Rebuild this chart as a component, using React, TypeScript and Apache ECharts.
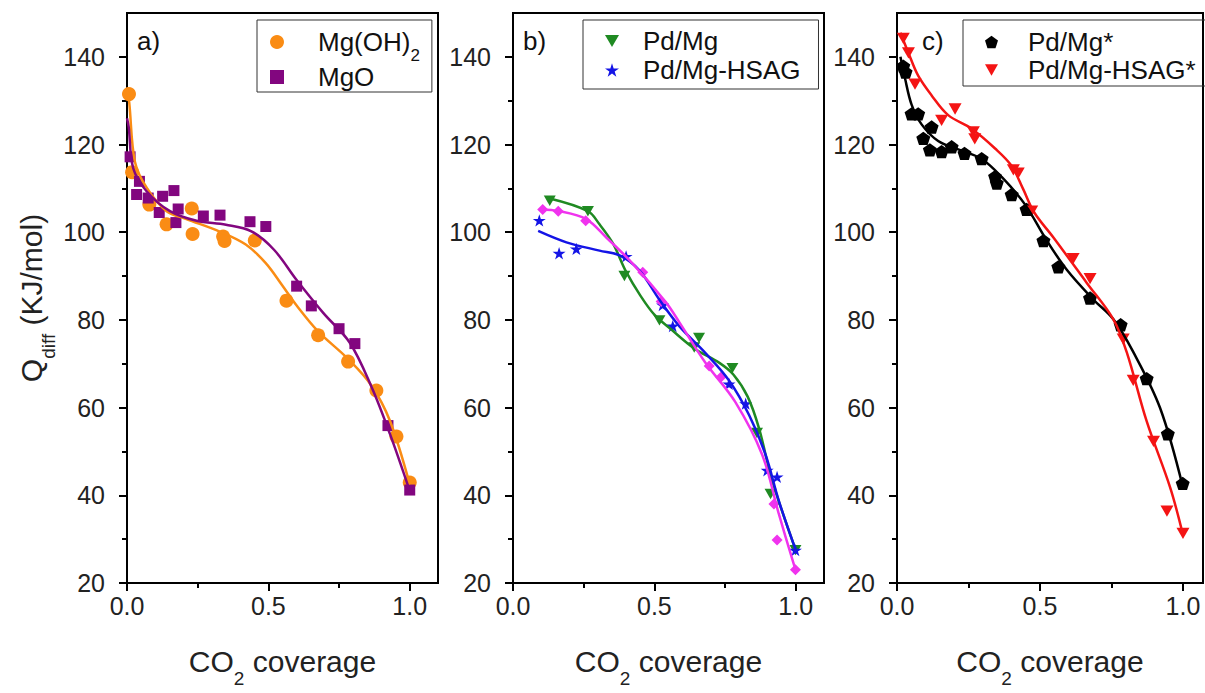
import { useEffect, useRef } from 'react';
import * as echarts from 'echarts';

const FONT = '"Liberation Sans", Arial, Helvetica, sans-serif';

// ---- tick values ----
const X_MAJOR = [0, 0.5, 1.0];
const X_MINOR = [0.25, 0.75];
const Y_MAJOR = [20, 40, 60, 80, 100, 120, 140];
const Y_MINOR = [30, 50, 70, 90, 110, 130];

// ---- panel a: measured points ----
const mgOH2 = [
  [0.007, 131.5], [0.018, 113.7], [0.079, 106.3], [0.14, 101.8], [0.229, 105.4], [0.232, 99.6],
  [0.34, 99.0], [0.345, 98.0], [0.452, 98.1], [0.564, 84.4], [0.676, 76.5], [0.782, 70.5],
  [0.882, 63.9], [0.953, 53.4], [1.0, 42.9],
];
const mgO = [
  [0.011, 117.2], [0.034, 108.6], [0.044, 111.6], [0.075, 107.8], [0.114, 104.5], [0.126, 108.2],
  [0.166, 109.5], [0.173, 102.2], [0.181, 105.3], [0.27, 103.7], [0.329, 103.9], [0.435, 102.4],
  [0.491, 101.3], [0.6, 87.7], [0.652, 83.2], [0.75, 78.0], [0.806, 74.6], [0.923, 55.9], [1.0, 41.2],
];
// panel a: fitted curves
const mgOH2Fit = [
  [0.0, 133], [0.008, 129.5], [0.028, 116.1], [0.07, 110.1], [0.14, 104.8], [0.21, 103.0],
  [0.33, 100.1], [0.42, 97.2], [0.49, 93.0], [0.55, 87.8], [0.6, 83.3], [0.676, 77.4],
  [0.782, 71.1], [0.865, 65.0], [0.93, 57.0], [1.0, 42.5],
];
const mgOFit = [
  [0.0, 126], [0.006, 124.0], [0.022, 114.6], [0.07, 109.3], [0.152, 104.8], [0.246, 102.6],
  [0.35, 101.7], [0.44, 100.2], [0.52, 96.0], [0.6, 89.1], [0.694, 81.6], [0.788, 74.8],
  [0.865, 64.7], [0.93, 54.0], [1.0, 41.0],
];

// ---- panel b: measured points ----
const pdMg = [
  [0.13, 107.2], [0.265, 104.8], [0.394, 90.0], [0.518, 79.9], [0.641, 73.7], [0.658, 75.9],
  [0.776, 69.0], [0.863, 54.2], [0.911, 40.3], [0.999, 27.5],
];
const pdMgHsag = [
  [0.093, 102.7], [0.163, 95.2], [0.224, 96.2], [0.4, 94.5], [0.529, 83.4], [0.565, 78.6],
  [0.764, 65.4], [0.823, 60.9], [0.899, 45.7], [0.934, 44.2], [0.999, 27.5],
];
const pdMg3 = [
  [0.105, 105.2], [0.16, 104.8], [0.257, 102.6], [0.459, 90.9], [0.524, 84.2], [0.694, 69.5],
  [0.735, 66.9], [0.923, 38.0], [0.934, 29.8], [0.999, 23.0],
];
// panel b: fitted curves
const pdMgFit = [
  [0.13, 107.7], [0.265, 104.8], [0.306, 101.8], [0.353, 97.5], [0.4, 91.0], [0.45, 85.6],
  [0.5, 81.2], [0.56, 77.8], [0.641, 73.5], [0.73, 70.2], [0.78, 67.5], [0.83, 62.5], [0.87, 55.3],
  [0.917, 43.3], [1.0, 27.5],
];
const pdMgHsagFit = [
  [0.089, 100.3], [0.189, 97.7], [0.306, 95.8], [0.377, 94.7], [0.447, 91.3], [0.518, 84.6],
  [0.588, 78.6], [0.68, 72.5], [0.764, 66.2], [0.835, 58.3], [0.893, 49.3], [0.94, 38.8], [1.0, 27.5],
];
const pdMg3Fit = [
  [0.095, 105.2], [0.165, 104.8], [0.259, 103.0], [0.33, 98.8], [0.424, 92.8], [0.541, 84.0],
  [0.588, 79.5], [0.68, 70.3], [0.786, 61.3], [0.881, 49.3], [0.94, 35.8], [1.0, 22.8],
];

// ---- panel c: measured points ----
const pdMgS = [
  [0.022, 137.9], [0.03, 136.5], [0.051, 127.0], [0.074, 127.0], [0.092, 121.4], [0.115, 118.8],
  [0.121, 124.0], [0.156, 118.4], [0.191, 119.5], [0.236, 118.0], [0.296, 116.8], [0.343, 112.7],
  [0.349, 111.2], [0.401, 108.6], [0.453, 105.2], [0.512, 98.1], [0.564, 92.1], [0.675, 85.0],
  [0.782, 78.9], [0.873, 66.6], [0.947, 54.0], [0.999, 42.7],
];
const pdMgHsagS = [
  [0.022, 144.2], [0.04, 140.9], [0.063, 133.8], [0.156, 125.5], [0.203, 128.1], [0.267, 122.9],
  [0.272, 121.3], [0.407, 114.2], [0.424, 113.5], [0.471, 104.8], [0.616, 94.0], [0.675, 89.4],
  [0.791, 75.6], [0.826, 66.2], [0.897, 52.3], [0.944, 36.4], [1.0, 31.3],
];
// panel c: fitted curves
const pdMgSFit = [
  [0.012, 140], [0.028, 135.1], [0.051, 129.1], [0.086, 124.6], [0.144, 120.8], [0.214, 118.9],
  [0.296, 116.7], [0.366, 112.6], [0.448, 106.3], [0.52, 98.5], [0.593, 91.5], [0.686, 84.7],
  [0.756, 80.2], [0.826, 72.7], [0.92, 59.9], [1.0, 41.8],
];
const pdMgHsagSFit = [
  [0.012, 145.5], [0.04, 140.9], [0.074, 135.7], [0.121, 131.2], [0.179, 126.7], [0.261, 123.6],
  [0.343, 119.1], [0.4, 115.2], [0.44, 110.0], [0.48, 104.5], [0.547, 98.8], [0.663, 88.5],
  [0.756, 80.2], [0.803, 72.7], [0.873, 56.9], [0.955, 41.8], [1.0, 31.0],
];

// ---- marker shapes ----
const STAR = 'path://M50,0 L61.2,34.5 L97.6,34.5 L68.2,55.9 L79.4,90.5 L50,69.1 L20.6,90.5 L31.8,55.9 L2.4,34.5 L38.8,34.5 Z';
const PENTAGON = 'path://M50,0 L97.6,34.5 L79.4,90.5 L20.6,90.5 L2.4,34.5 Z';
const TRI_DOWN = 'path://M0,0 L100,0 L50,87 Z';

const C_ORANGE = '#FA8C14';
const C_PURPLE = '#82067F';
const C_GREEN = '#1F8A22';
const C_BLUE = '#1414E6';
const C_MAGENTA = '#F033EE';
const C_BLACK = '#000000';
const C_RED = '#F41414';

const TOP = 13;
const HEIGHT = 576;
const PANELS = [
  { left: 127, width: 311, xMax: 1.1 },
  { left: 513, width: 311, xMax: 1.1 },
  { left: 897, width: 306, xMax: 1.07 },
];

const titleRich = {
  t: { fontSize: 30, fontFamily: FONT, color: '#222', lineHeight: 36 },
  s: { fontSize: 19, fontFamily: FONT, color: '#222', lineHeight: 19, verticalAlign: 'bottom', padding: [0, 0, -9, 0] },
};

function buildAxes() {
  const xAxis: any[] = [];
  const yAxis: any[] = [];
  PANELS.forEach((p, gi) => {
    xAxis.push({
      type: 'value', gridIndex: gi, min: 0, max: p.xMax, interval: 0.5, position: 'bottom',
      axisLine: { show: true, onZero: false, lineStyle: { color: '#000', width: 2 } },
      axisTick: { show: true, inside: false, length: 8, customValues: X_MAJOR, lineStyle: { color: '#000', width: 2 } },
      axisLabel: {
        customValues: X_MAJOR, margin: 10, fontSize: 25, fontFamily: FONT, color: '#222',
        formatter: (v: number) => v.toFixed(1),
      },
      splitLine: { show: false },
      name: '{t|CO}{s|2}{t| coverage}', nameLocation: 'middle', nameGap: 60,
      nameTextStyle: { rich: titleRich },
    });
    xAxis.push({
      type: 'value', gridIndex: gi, min: 0, max: p.xMax, interval: 0.5, position: 'bottom',
      axisLine: { show: false }, axisLabel: { show: false }, splitLine: { show: false },
      axisTick: { show: true, inside: false, length: 5, customValues: X_MINOR, lineStyle: { color: '#000', width: 2 } },
    });
    yAxis.push({
      type: 'value', gridIndex: gi, min: 20, max: 150, interval: 20, position: 'left',
      axisLine: { show: true, onZero: false, lineStyle: { color: '#000', width: 2 } },
      axisTick: { show: true, inside: false, length: 8, customValues: Y_MAJOR, lineStyle: { color: '#000', width: 2 } },
      axisLabel: { customValues: Y_MAJOR, margin: 22, fontSize: 25, fontFamily: FONT, color: '#222' },
      splitLine: { show: false },
      ...(gi === 0
        ? {
            name: '{t|Q}{s|diff}{t| (KJ/mol)}', nameLocation: 'middle', nameGap: 78, nameRotate: 90,
            nameTextStyle: { rich: titleRich },
          }
        : {}),
    });
    yAxis.push({
      type: 'value', gridIndex: gi, min: 20, max: 150, interval: 20, position: 'left',
      axisLine: { show: false }, axisLabel: { show: false }, splitLine: { show: false },
      axisTick: { show: true, inside: false, length: 5, customValues: Y_MINOR, lineStyle: { color: '#000', width: 2 } },
    });
  });
  return { xAxis, yAxis };
}

function scatter(name: string, gi: number, data: number[][], symbol: string, size: number, color: string) {
  return {
    type: 'scatter', name, xAxisIndex: gi * 2, yAxisIndex: gi * 2, data, symbol, symbolSize: size,
    symbolKeepAspect: true, itemStyle: { color, opacity: 1 }, z: 3, silent: true,
  };
}

function fit(gi: number, data: number[][], color: string) {
  return {
    type: 'line', xAxisIndex: gi * 2, yAxisIndex: gi * 2, data, smooth: 0.35, symbol: 'none',
    showSymbol: false, lineStyle: { color, width: 2.5 }, itemStyle: { color }, z: 4, silent: true,
  };
}

function legendRich(lineHeight: number, pad: number) {
  return {
    pad: { width: pad, fontSize: 10 },
    t: { fontSize: 26, fontFamily: FONT, color: '#111', lineHeight },
    s: { fontSize: 17, fontFamily: FONT, color: '#111', lineHeight: 17, verticalAlign: 'bottom', padding: [0, 0, -7, 0] },
  };
}

function legendText(name: string) {
  if (name === 'Mg(OH)2') return '{pad| }{t|Mg(OH)}{s|2}';
  return '{pad| }{t|' + name + '}';
}

function legend(left: number, names: string[], padding: number[], itemGap: number, lh: number, pad: number, size: number) {
  return {
    orient: 'vertical', left, top: 20, padding, itemGap, itemWidth: size, itemHeight: size,
    borderColor: '#333', borderWidth: 1, selectedMode: false, data: names,
    formatter: legendText, textStyle: { rich: legendRich(lh, pad) },
  };
}

function buildOption() {
  const { xAxis, yAxis } = buildAxes();
  return {
    animation: false,
    backgroundColor: '#fff',
    grid: PANELS.map((p) => ({
      left: p.left, top: TOP, width: p.width, height: HEIGHT, show: true,
      borderColor: '#000', borderWidth: 2, backgroundColor: 'transparent', containLabel: false,
    })),
    xAxis,
    yAxis,
    legend: [
      legend(257, ['Mg(OH)2', 'MgO'], [9, 12, 2, 13], 0, 30, 29, 14),
      legend(583, ['Pd/Mg', 'Pd/Mg-HSAG'], [8, 18, 6, 22], 3, 28, 19, 14),
      legend(963, ['Pd/Mg*', 'Pd/Mg-HSAG*'], [9, 10, 3, 22], 2, 26, 25, 13),
    ],
    graphic: [
      { type: 'text', x: 137, y: 41, style: { text: 'a)', fontSize: 26, fontFamily: FONT, fill: '#111', verticalAlign: 'middle' } },
      { type: 'text', x: 523, y: 41, style: { text: 'b)', fontSize: 26, fontFamily: FONT, fill: '#111', verticalAlign: 'middle' } },
      { type: 'text', x: 922, y: 41, style: { text: 'c)', fontSize: 26, fontFamily: FONT, fill: '#111', verticalAlign: 'middle' } },
    ],
    series: [
      scatter('Mg(OH)2', 0, mgOH2, 'circle', 14, C_ORANGE),
      scatter('MgO', 0, mgO, 'rect', 11, C_PURPLE),
      fit(0, mgOH2Fit, C_ORANGE),
      fit(0, mgOFit, C_PURPLE),

      scatter('Pd/Mg', 1, pdMg, TRI_DOWN, 12, C_GREEN),
      scatter('Pd/Mg-HSAG', 1, pdMgHsag, STAR, 13, C_BLUE),
      scatter('Pd/Mg 3', 1, pdMg3, 'diamond', 11, C_MAGENTA),
      fit(1, pdMgFit, C_GREEN),
      fit(1, pdMgHsagFit, C_BLUE),
      fit(1, pdMg3Fit, C_MAGENTA),

      scatter('Pd/Mg*', 2, pdMgS, PENTAGON, 14, C_BLACK),
      scatter('Pd/Mg-HSAG*', 2, pdMgHsagS, TRI_DOWN, 13, C_RED),
      fit(2, pdMgSFit, C_BLACK),
      fit(2, pdMgHsagSFit, C_RED),
    ],
  };
}

export default function App() {
  const ref = useRef<HTMLDivElement>(null);
  useEffect(() => {
    if (!ref.current) return;
    const chart = echarts.init(ref.current, null, { renderer: 'svg' });
    chart.setOption(buildOption() as any);
    return () => chart.dispose();
  }, []);
  return (
    <div
      ref={ref}
      style={{ position: 'absolute', left: 0, top: 0, width: 1205, height: 693, background: '#fff' }}
    />
  );
}
